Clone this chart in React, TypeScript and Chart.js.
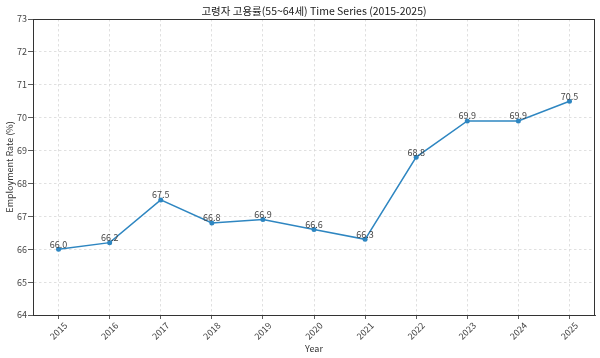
import React, { useEffect, useRef } from "react";
import { Chart, registerables } from "chart.js";

Chart.register(...registerables);

const years = ["2015", "2016", "2017", "2018", "2019", "2020", "2021", "2022", "2023", "2024", "2025"];
const rates = [66.0, 66.2, 67.5, 66.8, 66.9, 66.6, 66.3, 68.8, 69.9, 69.9, 70.5];
const titleText = "고령자 고용률(55~64세) Time Series (2015-2025)";
const xTitle = "Year";
const yTitle = "Employment Rate (%)";

const FONT = "'Noto Sans CJK KR', 'Noto Sans', sans-serif";
const LINE = "#2e86c1";

const boxPlugin = {
  id: "box",
  afterDraw(chart: any) {
    const { ctx, chartArea } = chart;
    ctx.save();
    ctx.strokeStyle = "#333";
    ctx.lineWidth = 1;
    ctx.setLineDash([]);
    ctx.strokeRect(Math.round(chartArea.left) + 0.5, Math.round(chartArea.top) + 0.5,
      Math.round(chartArea.right - chartArea.left) - 1, Math.round(chartArea.bottom - chartArea.top));
    ctx.font = `10.5px ${FONT}`;
    ctx.fillStyle = "#222";
    ctx.textAlign = "center";
    ctx.textBaseline = "middle";
    ctx.fillText(titleText, (chartArea.left + chartArea.right) / 2, 11);
    ctx.restore();
  },
};

const labelPlugin = {
  id: "vlabels",
  afterDatasetsDraw(chart: any) {
    const { ctx } = chart;
    const meta = chart.getDatasetMeta(0);
    ctx.save();
    ctx.font = `9px ${FONT}`;
    ctx.fillStyle = "#444";
    ctx.textAlign = "center";
    ctx.textBaseline = "middle";
    meta.data.forEach((pt: any, i: number) => {
      ctx.fillText(rates[i].toFixed(1), pt.x, pt.y - 5);
    });
    ctx.restore();
  },
};

export default function App() {
  const ref = useRef<HTMLCanvasElement>(null);
  useEffect(() => {
    document.body.style.margin = "0";
    const chart = new Chart(ref.current!, {
      type: "line",
      data: {
        labels: years,
        datasets: [
          {
            data: rates,
            borderColor: LINE,
            backgroundColor: LINE,
            borderWidth: 1.5,
            pointRadius: 2.5,
            pointBackgroundColor: LINE,
            pointBorderWidth: 0,
            tension: 0,
          },
        ],
      },
      options: {
        animation: false,
        responsive: false,
        maintainAspectRatio: false,
        layout: { padding: { left: 0, right: 5, top: 19, bottom: 0 } },
        plugins: {
          legend: { display: false },
          tooltip: { enabled: false },
          title: { display: false },
        },
        scales: {
          x: {
            type: "category",
            offset: true,
            afterFit: (s: any) => { s.height = 43; },
            grid: { offset: false, color: "#d8d8d8", lineWidth: 0.8, tickLength: 4, tickColor: "#333" },
            border: { display: true, color: "#333", dash: [2.5, 2.5] },
            ticks: {
              color: "#444",
              font: { family: FONT, size: 9 },
              minRotation: 45,
              maxRotation: 45,
              labelOffset: 7,
              padding: 1,
            },
            title: { display: true, text: xTitle, color: "#333", font: { family: FONT, size: 9 }, padding: { top: 4, bottom: 4 } },
          },
          y: {
            type: "linear",
            min: 64,
            max: 73,
            afterFit: (s: any) => { s.width = 33; },
            grid: { color: "#d8d8d8", lineWidth: 0.8, tickLength: 5, tickColor: "#333" },
            border: { display: true, color: "#333", dash: [2.5, 2.5] },
            ticks: { stepSize: 1, color: "#444", font: { family: FONT, size: 9 }, padding: 1 },
            title: { display: true, text: yTitle, color: "#333", font: { family: FONT, size: 9 }, padding: { top: 4, bottom: 4 } },
          },
        },
      },
      plugins: [boxPlugin, labelPlugin],
    } as any);
    return () => chart.destroy();
  }, []);
  return (
    <div style={{ position: "absolute", left: 0, top: 0, width: 600, height: 358, background: "#fff" }}>
      <canvas ref={ref} width={600} height={358} style={{ width: 600, height: 358 }} />
    </div>
  );
}
